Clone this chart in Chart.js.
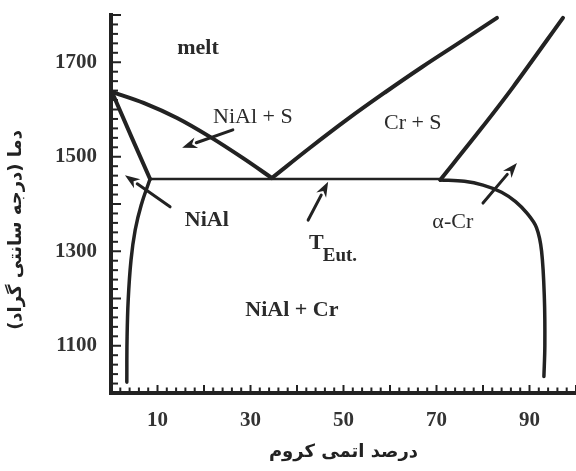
<!DOCTYPE html>
<html>
<head>
<meta charset="utf-8">
<script src="https://cdn.jsdelivr.net/npm/chart.js@4.4.1/dist/chart.umd.min.js"></script>
<style>
  html, body { margin: 0; padding: 0; background: #fff; }
  #wrap { width: 576px; height: 471px; }
</style>
</head>
<body>
<div id="wrap"><canvas id="chart"></canvas></div>
<script>
// Phase boundaries, [at.% Cr, temperature °C]
const liquidusNiAl = [[0.3, 1637], [7, 1614], [14.2, 1582], [21.3, 1542], [28.4, 1497], [34.6, 1455]];
const solidusNiAl = [[0.3, 1635], [4.4, 1542], [8.4, 1453]];
const solvusNiAl = [[8.4, 1453], [6.5, 1398], [5.2, 1345], [4.3, 1281], [3.7, 1197], [3.45, 1112], [3.4, 1023]];
const eutectic = [[8.4, 1453], [70.8, 1453]];
const liquidusCr = [[34.6, 1455], [42.8, 1519], [50.8, 1579], [58.9, 1636], [66.9, 1690], [75.0, 1742], [83.0, 1794]];
const solidusCr = [[70.8, 1451], [79.4, 1557], [86.5, 1648], [97.2, 1794]];
const solvusCr = [[70.8, 1451], [76, 1448], [80, 1440], [84, 1425], [87, 1405], [89.5, 1380], [91.5, 1350], [92.6, 1300], [93.2, 1200], [93.3, 1100], [93.1, 1035]];

// axis ticks
const xTicks = [10, 30, 50, 70, 90];
const yTicks = [1100, 1300, 1500, 1700];
const xTitle = 'درصد اتمی کروم';
const yTitle = 'دما (درجه سانتی گراد)\u200F';

// region labels and pointer arrows, in data units
const regionLabels = [
  { text: 'melt', x: 18.7, y: 1730, bold: true },
  { text: 'NiAl + S', x: 30.5, y: 1584, bold: false },
  { text: 'Cr + S', x: 64.9, y: 1571, bold: false },
  { text: 'NiAl', x: 20.6, y: 1366, bold: true },
  { text: 'α-Cr', x: 73.5, y: 1362, bold: false },
  { text: 'NiAl + Cr', x: 38.9, y: 1176, bold: true }
];
const arrows = [
  { from: [26.2, 1557], to: [15.3, 1519] },
  { from: [12.7, 1394], to: [3.0, 1461] },
  { from: [42.4, 1366], to: [46.7, 1447] },
  { from: [80.0, 1402], to: [87.3, 1487] }
];

const ink = '#222';
const serif = '"Liberation Serif", "Times New Roman", serif';
const persian = '"DejaVu Sans", sans-serif';

function curve(points, width, tension) {
  return {
    data: points.map(([x, y]) => ({ x, y })),
    showLine: true,
    borderColor: ink,
    borderWidth: width,
    pointRadius: 0,
    tension: tension,
    borderCapStyle: 'round',
    borderJoinStyle: 'round'
  };
}

function drawArrow(ctx, x0, y0, x1, y1) {
  const a = Math.atan2(y1 - y0, x1 - x0);
  const head = 15, half = 5.5;
  const bx = x1 - head * Math.cos(a), by = y1 - head * Math.sin(a);
  ctx.beginPath();
  ctx.moveTo(x0, y0);
  ctx.lineTo(bx, by);
  ctx.stroke();
  ctx.beginPath();
  ctx.moveTo(x1, y1);
  ctx.lineTo(bx + half * Math.sin(a), by - half * Math.cos(a));
  ctx.lineTo(x1 - 0.7 * head * Math.cos(a), y1 - 0.7 * head * Math.sin(a));
  ctx.lineTo(bx - half * Math.sin(a), by + half * Math.cos(a));
  ctx.closePath();
  ctx.fill();
}

const annotations = {
  id: 'annotations',
  afterDraw(chart) {
    const { ctx, scales: { x, y }, chartArea: area } = chart;
    ctx.save();
    ctx.strokeStyle = ink;
    ctx.fillStyle = ink;

    // inward minor/major ticks
    ctx.lineWidth = 2;
    for (let v = 1000; v <= 1800; v += 20) {
      const py = y.getPixelForValue(v);
      const len = v % 100 === 0 ? 8 : 5;
      ctx.beginPath();
      ctx.moveTo(area.left, py);
      ctx.lineTo(area.left + 2 + len, py);
      ctx.stroke();
    }
    for (let v = 0; v <= 100; v += 2) {
      const px = x.getPixelForValue(v);
      const len = v % 10 === 0 ? 6 : 3.5;
      ctx.beginPath();
      ctx.moveTo(px, area.bottom);
      ctx.lineTo(px, area.bottom - 2 - len);
      ctx.stroke();
    }

    // arrows
    ctx.lineWidth = 3;
    ctx.lineCap = 'round';
    arrows.forEach(({ from, to }) => {
      drawArrow(ctx, x.getPixelForValue(from[0]), y.getPixelForValue(from[1]),
        x.getPixelForValue(to[0]), y.getPixelForValue(to[1]));
    });

    // region labels
    ctx.fillStyle = '#2a2a2a';
    ctx.textAlign = 'center';
    ctx.textBaseline = 'middle';
    regionLabels.forEach(l => {
      ctx.font = `${l.bold ? 'bold ' : ''}22px ${serif}`;
      ctx.fillText(l.text, x.getPixelForValue(l.x), y.getPixelForValue(l.y));
    });
    // T with subscript Eut.
    ctx.textAlign = 'left';
    ctx.textBaseline = 'alphabetic';
    const tx = x.getPixelForValue(42.6), ty = y.getPixelForValue(1305);
    ctx.font = `bold 22px ${serif}`;
    ctx.fillText('T', tx, ty);
    ctx.font = `bold 19px ${serif}`;
    ctx.fillText('Eut.', tx + ctx.measureText('T').width + 1, ty + 12);

    // y axis title
    ctx.font = `bold 18px ${persian}`;
    ctx.fillStyle = '#222';
    ctx.textAlign = 'center';
    ctx.textBaseline = 'middle';
    ctx.translate(16, y.getPixelForValue(1345));
    ctx.rotate(-Math.PI / 2);
    ctx.fillText(yTitle, 0, 0);
    ctx.restore();
  }
};

new Chart(document.getElementById('chart'), {
  type: 'scatter',
  data: {
    datasets: [
      curve(liquidusNiAl, 4, 0.3),
      curve(solidusNiAl, 4, 0),
      curve(solvusNiAl, 3.5, 0.4),
      curve(eutectic, 2.5, 0),
      curve(liquidusCr, 4, 0.4),
      curve(solidusCr, 4, 0.3),
      curve(solvusCr, 3.5, 0.35)
    ]
  },
  options: {
    responsive: true,
    maintainAspectRatio: false,
    animation: false,
    layout: { padding: { top: 15, right: 0, left: 0, bottom: 0 } },
    plugins: { legend: { display: false }, tooltip: { enabled: false } },
    scales: {
      x: {
        type: 'linear', min: 0, max: 100,
        afterBuildTicks: s => { s.ticks = xTicks.map(v => ({ value: v })); },
        afterFit: s => { s.height = 78; s.paddingLeft = 0; s.paddingRight = 0; },
        grid: { display: false, drawTicks: false },
        border: { display: true, width: 4, color: ink },
        ticks: { autoSkip: false, maxRotation: 0, padding: 15, color: '#333',
          font: { family: serif, size: 21, weight: 'bold' } },
        title: { display: true, text: xTitle, color: '#222', padding: { top: 0, bottom: 8 },
          font: { family: persian, size: 18, weight: 'bold' } }
      },
      y: {
        type: 'linear', min: 1000, max: 1800,
        afterBuildTicks: s => { s.ticks = yTicks.map(v => ({ value: v })); },
        afterFit: s => { s.width = 111; s.paddingTop = 0; s.paddingBottom = 0; },
        grid: { display: false, drawTicks: false },
        border: { display: true, width: 4, color: ink },
        ticks: { autoSkip: false, padding: 14, color: '#333',
          callback: v => String(v),
          font: { family: serif, size: 21, weight: 'bold' } }
      }
    }
  },
  plugins: [annotations]
});
</script>
</body>
</html>
